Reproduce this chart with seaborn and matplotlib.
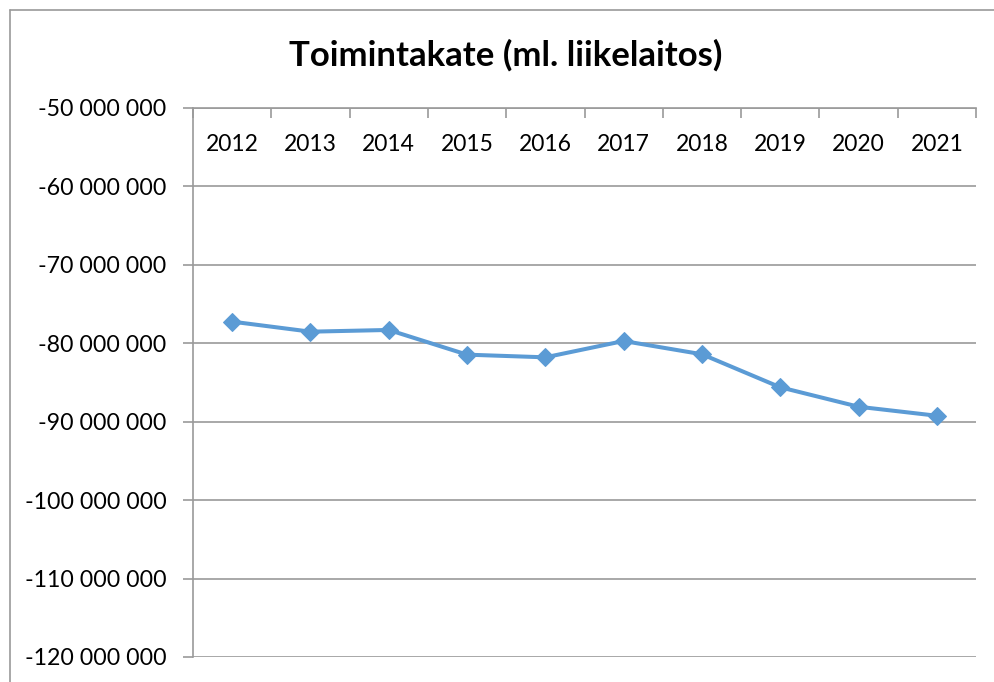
import numpy as np
import pandas as pd
import matplotlib
matplotlib.use('Agg')
import matplotlib.pyplot as plt
import matplotlib.ticker as mticker
from matplotlib.lines import Line2D
import seaborn as sns

# %% Data
years = ['2012', '2013', '2014', '2015', '2016', '2017', '2018', '2019', '2020', '2021']
toimintakate = [-77.24e6, -78.52e6, -78.30e6, -81.45e6, -81.79e6,
                -79.71e6, -81.40e6, -85.61e6, -88.09e6, -89.24e6]
yticks = [-120e6, -110e6, -100e6, -90e6, -80e6, -70e6, -60e6, -50e6]
title = 'Toimintakate (ml. liikelaitos)'

df = pd.DataFrame({'vuosi': years, 'arvo': toimintakate})

# %% Style
sns.set_style('white')
plt.rcParams['font.family'] = ['Lato', 'DejaVu Sans']
plt.rcParams['text.color'] = 'black'
plt.rcParams['xtick.labelcolor'] = 'black'
plt.rcParams['ytick.labelcolor'] = 'black'
blue = '#5B9BD5'
grey = '#9A9A9A'

fig = plt.figure(figsize=(9.95, 6.82), dpi=100)
ax = fig.add_axes([193/995, 1 - 657/682, (976 - 193)/995, (657 - 108)/682])

sns.lineplot(data=df, x='vuosi', y='arvo', ax=ax, color=blue, linewidth=2.9,
             marker='D', markersize=9, markeredgecolor=blue, sort=False)

ax.set_xlim(-0.5, len(years) - 0.5)
ax.set_ylim(yticks[0], yticks[-1])
ax.set_yticks(yticks)
ax.yaxis.set_major_formatter(mticker.FuncFormatter(
    lambda v, p: '{:,.0f}'.format(v).replace(',', ' ')))
ax.grid(axis='y', color=grey, linewidth=1.2)
ax.set_axisbelow(True)

# x axis sits on top (Excel style), labels inside below the line
ax.xaxis.set_minor_locator(mticker.FixedLocator(np.arange(-0.5, len(years), 1.0)))
ax.tick_params(axis='x', which='major', bottom=False, top=False,
               labelbottom=False, labeltop=True, length=0, pad=-34, labelsize=16.5,
               labelcolor='black')
ax.tick_params(axis='x', which='minor', bottom=False, top=True, direction='in',
               length=7, width=1.2, color=grey)
ax.tick_params(axis='y', which='major', left=True, direction='out', length=7,
               width=1.2, color=grey, labelsize=16.7, pad=12, labelcolor='black')
ax.set_xlabel('')
ax.set_ylabel('')

for s in ['right', 'bottom']:
    ax.spines[s].set_visible(False)
for s in ['top', 'left']:
    ax.spines[s].set_color(grey)
    ax.spines[s].set_linewidth(1.2)

fig.text(506/995, 1 - 55/682, title, ha='center', va='center',
         fontsize=25, fontweight='bold', color='black')

# outer chart frame
fig.add_artist(Line2D([10/995, 1], [1 - 10/682, 1 - 10/682], color=grey, lw=1.2))
fig.add_artist(Line2D([10/995, 10/995], [0, 1 - 10/682], color=grey, lw=1.2))

fig.savefig('out.png', dpi=100)
